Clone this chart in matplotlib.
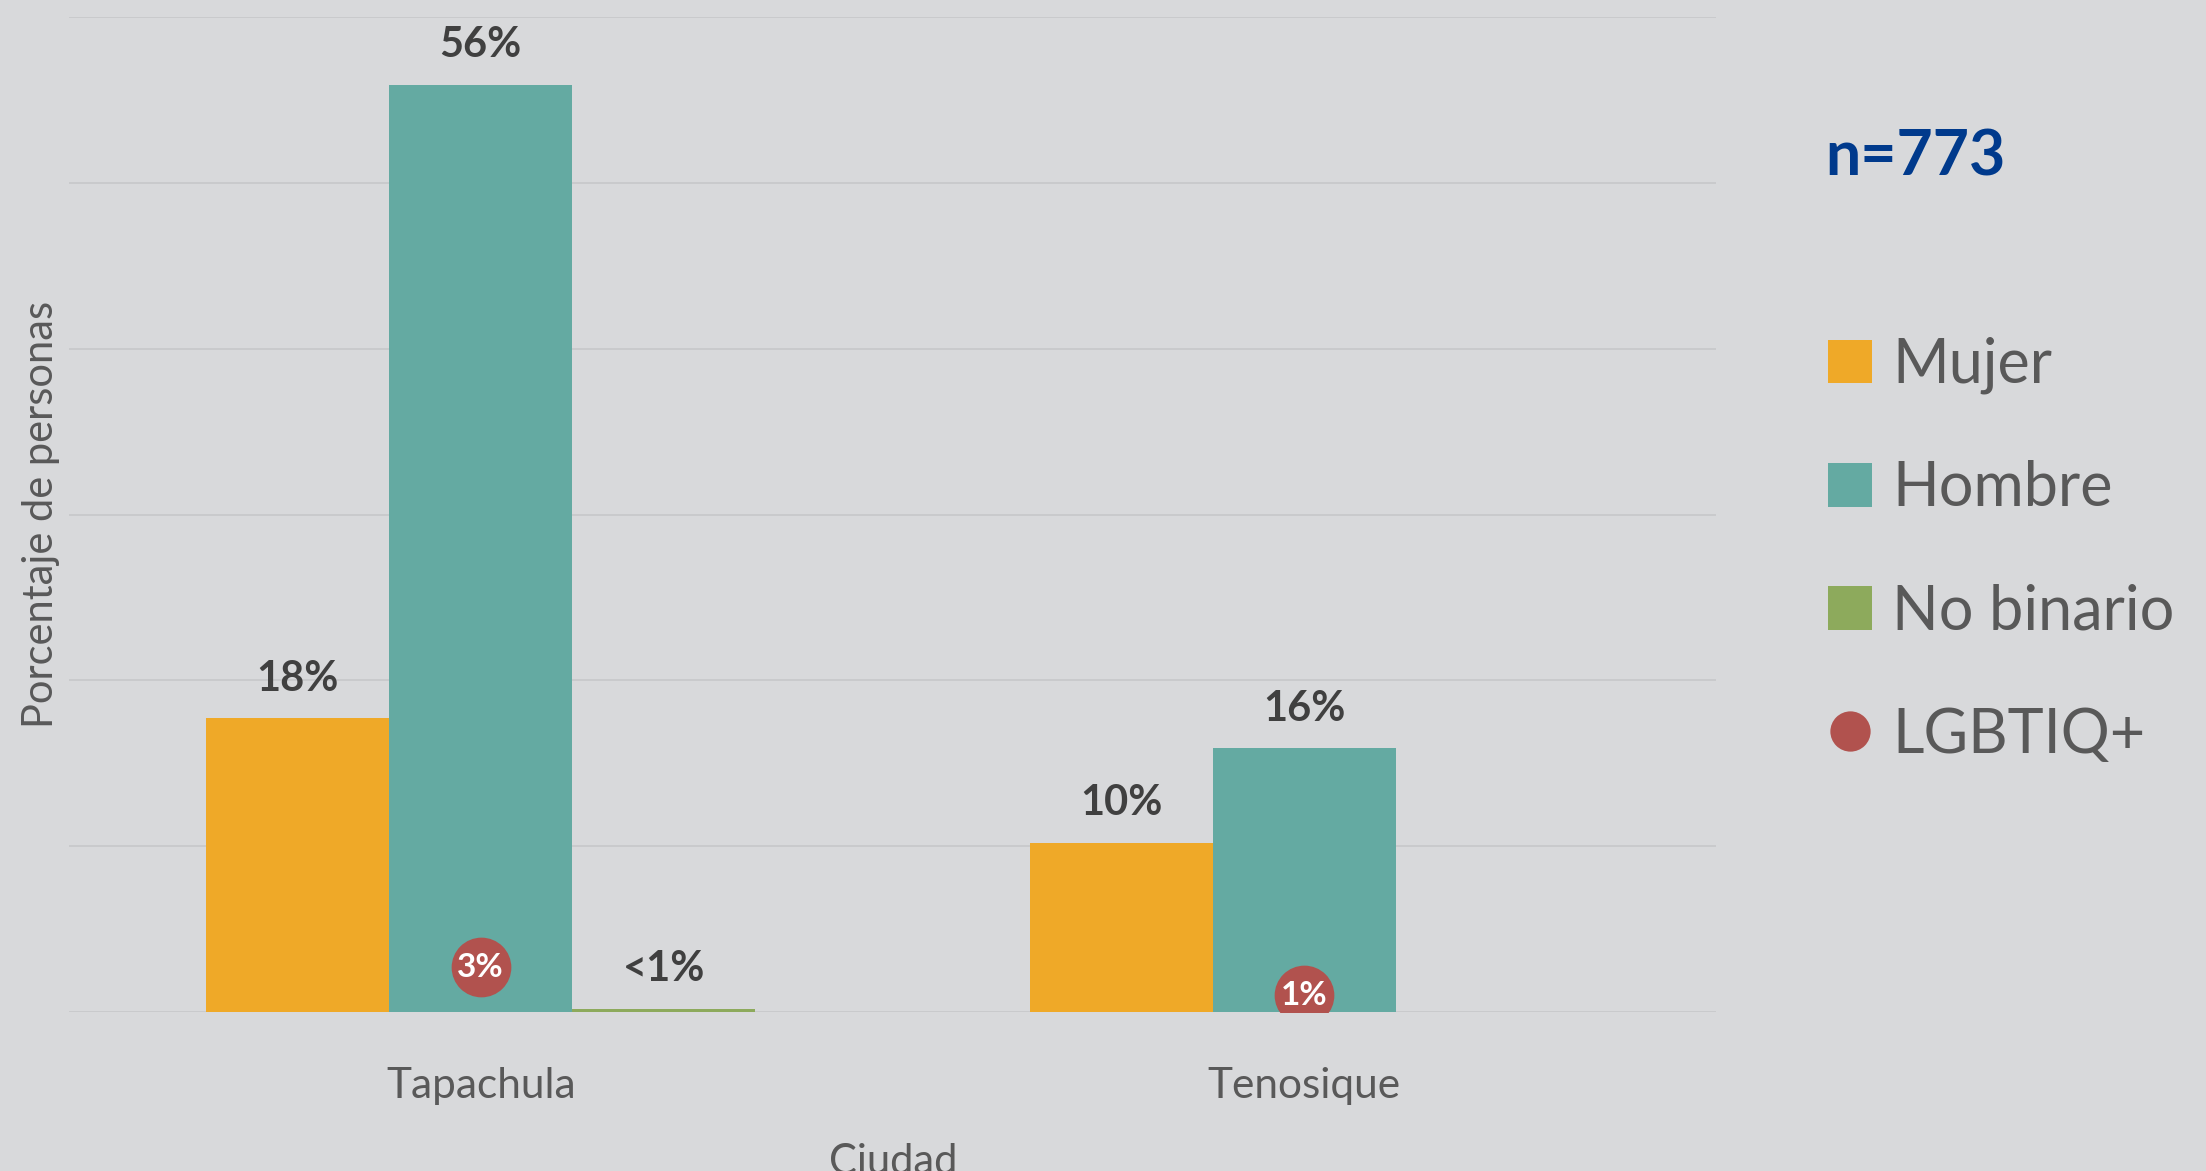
import matplotlib
matplotlib.use("Agg")
import matplotlib.pyplot as plt
from matplotlib.patches import Patch
from matplotlib.lines import Line2D
import numpy as np

# data (percent of people)
ciudades = ["Tapachula", "Tenosique"]
mujer = [17.7, 10.2]
hombre = [55.9, 15.9]
no_binario = [0.2, 0.0]
lgbtiq = [2.7, 1.0]

mujer_labels = ["18%", "10%"]
hombre_labels = ["56%", "16%"]
no_binario_labels = ["<1%", ""]
lgbtiq_labels = ["3%", "1%"]

series_names = ["Mujer", "Hombre", "No binario", "LGBTIQ+"]
n_total = "n=773"

BG = "#D8D9DB"
GRID = "#C8C9CB"
C_MUJER = "#EFA928"
C_HOMBRE = "#64AAA2"
C_NB = "#8DAA5C"
C_LGBT = "#B1524E"
C_LABEL = "#404040"
C_TEXT = "#595959"
C_N = "#003A8C"

plt.rcParams["font.family"] = ["Lato", "DejaVu Sans"]

W, H = 2206, 1171
fig = plt.figure(figsize=(W / 100, H / 100), dpi=100, facecolor=BG)
ax = fig.add_axes([69 / W, 159 / H, 1647 / W, 995 / H], facecolor=BG)

x = np.arange(len(ciudades))
w = 0.2222

b1 = ax.bar(x - w, mujer, w, color=C_MUJER, zorder=2)
b2 = ax.bar(x, hombre, w, color=C_HOMBRE, zorder=2)
b3 = ax.bar(x + w, no_binario, w, color=C_NB, zorder=2)

for bars, labels in [(b1, mujer_labels), (b2, hombre_labels), (b3, no_binario_labels)]:
    for rect, lab in zip(bars, labels):
        if not lab:
            continue
        ax.annotate(lab, (rect.get_x() + rect.get_width() / 2, rect.get_height()),
                    xytext=(0, 20), textcoords="offset points",
                    ha="center", va="baseline", fontsize=30, fontweight="bold",
                    color=C_LABEL, zorder=4)

# LGBTIQ+ shown as circles over the Hombre bars
ax.scatter(x, lgbtiq, s=43 ** 2, color=C_LGBT, zorder=5, linewidths=0)
for xi, yi, lab in zip(x, lgbtiq, lgbtiq_labels):
    ax.text(xi, yi, lab, ha="center", va="center", fontsize=24,
            fontweight="bold", color="white", zorder=6)

ax.set_xlim(-0.5, 1.5)
ax.set_ylim(0, 60)
ax.set_yticks(np.arange(0, 61, 10))
ax.set_yticklabels([])
ax.yaxis.grid(True, color=GRID, linewidth=1.3, zorder=0)
ax.set_axisbelow(True)
for s in ax.spines.values():
    s.set_visible(False)
ax.tick_params(axis="both", length=0)
ax.set_xticks(x)
ax.set_xticklabels(ciudades, fontsize=30.5, color=C_TEXT)
ax.tick_params(axis="x", pad=39.5)

ax.set_ylabel("Porcentaje de personas", fontsize=30, color=C_TEXT)
ax.yaxis.set_label_coords(-9 / 1647, 0.5)

fig.text(893 / W, 1 - 1174 / H, "Ciudad", ha="center", va="baseline",
         fontsize=30, color=C_TEXT)

fig.text(1825 / W, 1 - 176 / H, n_total, ha="left", va="baseline",
         fontsize=45, fontweight="bold", color=C_N)

handles = [
    Patch(facecolor=C_MUJER, edgecolor="none"),
    Patch(facecolor=C_HOMBRE, edgecolor="none"),
    Patch(facecolor=C_NB, edgecolor="none"),
    Line2D([], [], linestyle="none", marker="o", markersize=29,
           markerfacecolor=C_LGBT, markeredgewidth=0),
]
fs = 44
em = fs * 100 / 72
leg = fig.legend(handles, series_names, loc="upper left",
                 bbox_to_anchor=(1828 / W, 1 - 337 / H),
                 bbox_transform=fig.transFigure, frameon=False,
                 fontsize=fs, labelcolor=C_TEXT, borderpad=0, borderaxespad=0,
                 handlelength=44 / em, handleheight=44 / em,
                 handletextpad=20 / em, labelspacing=1.08)

fig.savefig("out.png", dpi=100, facecolor=BG)
